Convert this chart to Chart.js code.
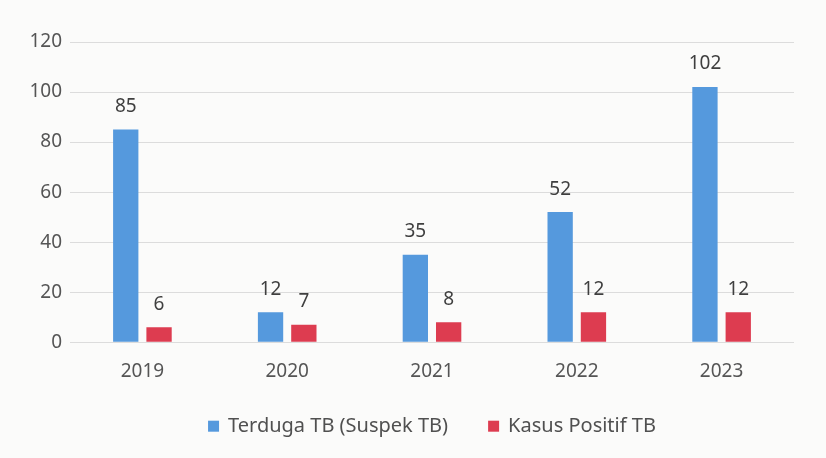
<!DOCTYPE html>
<html>
<head>
<meta charset="utf-8">
<script src="https://cdn.jsdelivr.net/npm/chart.js@4"></script>
<style>
  html, body { margin: 0; padding: 0; background: #fbfbfa; }
  #wrap { width: 826px; height: 458px; }
</style>
</head>
<body>
<div id="wrap"><canvas id="chart" width="826" height="458"></canvas></div>
<script>
// data
const years = ["2019", "2020", "2021", "2022", "2023"];
const terduga = [85, 12, 35, 52, 102];
const positif = [6, 7, 8, 12, 12];
const yTicks = [0, 20, 40, 60, 80, 100, 120];

const FONT = "'Noto Sans', 'Open Sans', sans-serif";
const FSIZE = 19;

// draws the number above each bar
const barLabels = {
    id: "barLabels",
    afterDatasetsDraw(chart) {
        const ctx = chart.ctx;
        ctx.save();
        ctx.font = FSIZE + "px " + FONT;
        ctx.fillStyle = "#3f3f3f";
        ctx.textAlign = "center";
        ctx.textBaseline = "middle";
        chart.data.datasets.forEach(function(ds, i) {
            chart.getDatasetMeta(i).data.forEach(function(bar, j) {
                ctx.fillText(ds.data[j], bar.x, bar.y - 23);
            });
        });
        ctx.restore();
    }
};

// legend drawn by hand so the gap between the two entries can be wider
const bottomLegend = {
    id: "bottomLegend",
    afterDraw(chart) {
        const ctx = chart.ctx;
        const box = 11, gapText = 9, gapItem = 40;
        ctx.save();
        ctx.font = "20px " + FONT;
        ctx.textBaseline = "middle";
        const items = chart.data.datasets.map(ds => ({
            text: ds.label, color: ds.backgroundColor, w: ctx.measureText(ds.label).width
        }));
        let total = 0;
        items.forEach((it, i) => { total += box + gapText + it.w + (i ? gapItem : 0); });
        let x = (chart.chartArea.left + chart.chartArea.right) / 2 - total / 2;
        const y = chart.chartArea.bottom + 84;
        items.forEach(it => {
            ctx.fillStyle = it.color;
            ctx.fillRect(x, y - box / 2, box, box);
            x += box + gapText;
            ctx.fillStyle = "#505050";
            ctx.fillText(it.text, x, y);
            x += it.w + gapItem;
        });
        ctx.restore();
    }
};

new Chart(document.getElementById("chart"), {
    type: "bar",
    data: {
        labels: years,
        datasets: [
            { label: "Terduga TB (Suspek TB)", data: terduga, backgroundColor: "#5599dd" },
            { label: "Kasus Positif TB", data: positif, backgroundColor: "#dd3c50" }
        ]
    },
    options: {
        responsive: false,
        animation: false,
        categoryPercentage: 0.46,
        barPercentage: 0.76,
        layout: { padding: { top: 42, right: 32, left: 0, bottom: 65 } },
        plugins: {
            legend: { display: false },
            tooltip: { enabled: false }
        },
        scales: {
            x: {
                grid: { display: false },
                border: { display: false },
                ticks: { font: { family: FONT, size: FSIZE }, color: "#555", padding: 10 }
            },
            y: {
                min: 0,
                max: 120,
                afterBuildTicks(axis) { axis.ticks = yTicks.map(v => ({ value: v })); },
                afterFit(axis) { axis.width = 70; },
                grid: { color: "#dcdcdc", drawTicks: false },
                border: { display: false },
                ticks: { font: { family: FONT, size: FSIZE }, color: "#555", padding: 8 }
            }
        }
    },
    plugins: [barLabels, bottomLegend]
});
</script>
</body>
</html>
